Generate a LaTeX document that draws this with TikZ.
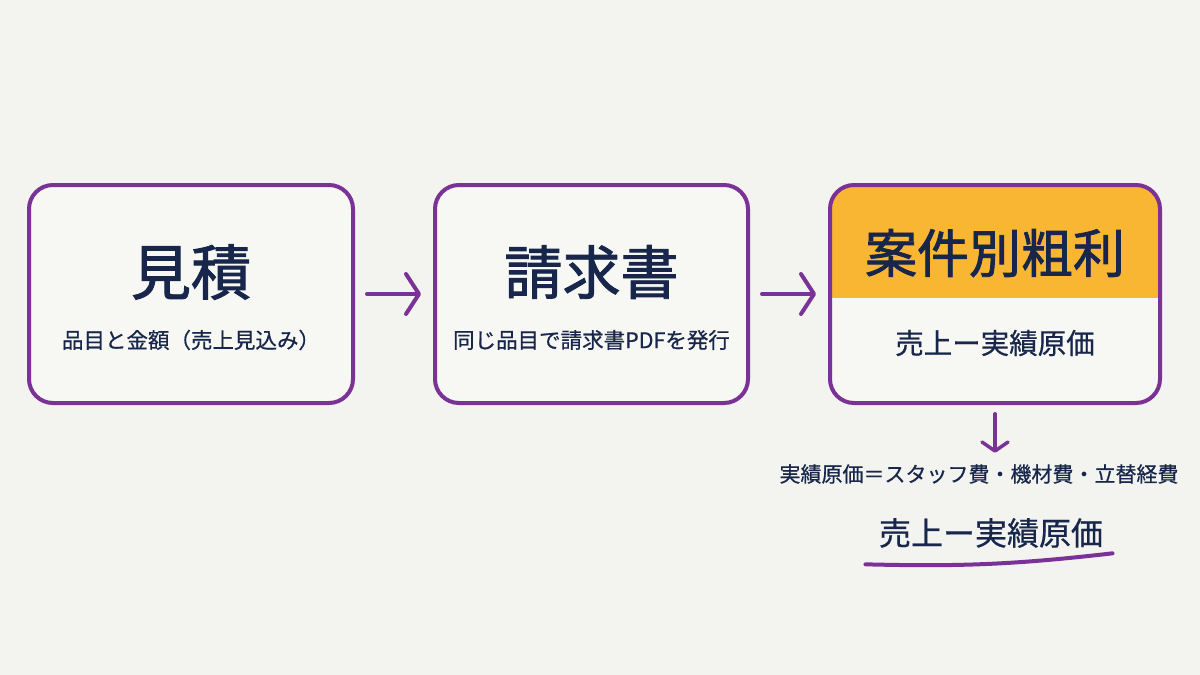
\documentclass[tikz,border=0pt]{standalone}
\usepackage{fontspec}
\setmainfont{Noto Sans CJK JP}[FakeBold=0.6]
\newfontfamily\headfont{Noto Sans CJK JP}[FakeBold=1.6]
\usetikzlibrary{
  arrows.meta,
  positioning,
  calc
}
\definecolor{qtLine}{HTML}{7A3296}
\definecolor{qtHead}{HTML}{F8B633}
\definecolor{qtInk}{HTML}{17264A}
\definecolor{qtPaper}{HTML}{F3F3EF}
\definecolor{qtBox}{HTML}{F7F7F4}
\tikzset{
  stagebox/.style={
    draw=qtLine, line width=4pt, rounded corners=24pt, fill=qtBox,
    minimum height=218pt, inner sep=0pt
  },
  headbox/.style={stagebox,
    path picture={\fill[qtHead, sharp corners] (path picture bounding box.north west)
      rectangle ($(path picture bounding box.north east)+(0,-113)$);}
  },
  bigtitle/.style={font=\headfont\fontsize{60}{62}\selectfont, text=qtInk},
  midtitle/.style={font=\headfont\fontsize{52}{54}\selectfont, text=qtInk},
  subline/.style={font=\fontsize{21.5}{24}\selectfont, text=qtInk},
  resline/.style={font=\fontsize{28.5}{30}\selectfont, text=qtInk},
  note/.style={font=\fontsize{21}{24}\selectfont, text=qtInk},
  flow/.style={line width=4pt, qtLine, line cap=round, line join=round,
    shorten <=12pt, shorten >=12pt},
  stroke/.style={line width=4pt, qtLine, line cap=round}
}

\begin{document}
\begin{tikzpicture}[x=1pt, y=1pt, node distance=78pt,
    >={Straight Barb[length=13pt, width=40pt, line width=4pt, round]}]
  \fill[qtPaper] (0,0) rectangle (1200,-675);
  \useasboundingbox (0,0) rectangle (1200,-675);

  % three stages
  \node[stagebox, minimum width=324pt] (est) at (191,-294) {};
  \node[stagebox, minimum width=313pt, right=of est] (inv) {};
  \node[headbox, minimum width=330pt, right=of inv] (gross) {};

  \node[bigtitle] (estT) at ([yshift=22pt]est.center) {見積};
  \node[subline] (estS) at ([yshift=-46pt]est.center) {品目と金額（売上見込み）};
  \node[bigtitle, font=\headfont\fontsize{58}{60}\selectfont] (invT) at ([yshift=22pt]inv.center) {請求書};
  \node[subline] (invS) at ([yshift=-46pt]inv.center) {同じ品目で請求書PDFを発行};
  \node[midtitle] (grossT) at ([yshift=41pt]gross.center) {案件別粗利};
  \node[resline] (grossS) at ([yshift=-49pt]gross.center) {売上ー実績原価};

  \draw[flow, ->] (est) -- (inv);
  \draw[flow, ->] (inv) -- (gross);

  % breakdown below
  \node[note] (cost) at ($(gross.south)+(-16,-69)$) {実績原価＝スタッフ費・機材費・立替経費};
  \node[resline, font=\fontsize{32}{34}\selectfont] (res) at ($(cost)+(12,-59)$) {売上ー実績原価};
  \draw[flow, shorten <=9pt, shorten >=8pt,
    -{Straight Barb[length=9pt, width=26pt, line width=3.5pt, round]}] (gross.south) -- (gross.south |- cost.north);
  \draw[stroke] ($(res.south west)+(-10,-13)$) to[bend right=4] ($(res.south east)+(6,-2)$);
\end{tikzpicture}
\end{document}
